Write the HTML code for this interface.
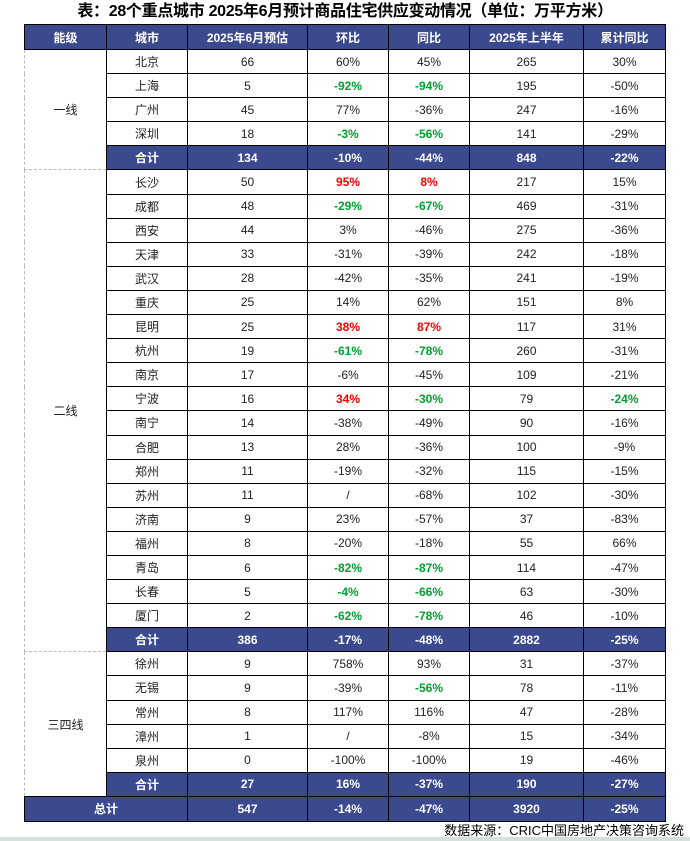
<!DOCTYPE html>
<html><head><meta charset="utf-8"><style>
body{margin:0;width:690px;height:841px;background:#fff;position:relative;overflow:hidden;font-family:"Liberation Sans","Noto Sans CJK SC",sans-serif;}
#title{position:absolute;left:0;top:1px;width:690px;text-align:center;font-size:16px;font-weight:bold;line-height:22px;color:#000;letter-spacing:-0.3px}
table{position:absolute;left:24px;top:24px;border-collapse:collapse;table-layout:fixed;font-size:12px;}
td{height:23.1px;padding:0;text-align:center;border:1px solid #000;color:#222;white-space:nowrap}
td.lv{border:1px dashed #bbb;border-right:1px solid #000}
tr.h td{background:#3b4a8f;color:#fff;font-weight:bold;border-color:#000;height:24px}
tr.s td.s{background:#3b4a8f;color:#fff;font-weight:bold}
.g{color:#00a030;font-weight:bold}.r{color:#ff0000;font-weight:bold}
#src{position:absolute;right:6px;top:823px;font-size:13px;line-height:16px;color:#000}
#bl{position:absolute;left:0;top:837px;width:690px;height:4px;background:#d8dede}
</style></head><body>
<div id="title">表：28个重点城市 2025年6月预计商品住宅供应变动情况（单位：万平方米）</div>
<table>
<colgroup><col style="width:82px"><col style="width:81px"><col style="width:120px"><col style="width:81px"><col style="width:81px"><col style="width:114px"><col style="width:82px"></colgroup>
<tr class="h"><td>能级</td><td>城市</td><td>2025年6月预估</td><td>环比</td><td>同比</td><td>2025年上半年</td><td>累计同比</td></tr>
<tr><td class="lv" rowspan="5">一线</td><td>北京</td><td>66</td><td>60%</td><td>45%</td><td>265</td><td>30%</td></tr>
<tr><td>上海</td><td>5</td><td class="g">-92%</td><td class="g">-94%</td><td>195</td><td>-50%</td></tr>
<tr><td>广州</td><td>45</td><td>77%</td><td>-36%</td><td>247</td><td>-16%</td></tr>
<tr><td>深圳</td><td>18</td><td class="g">-3%</td><td class="g">-56%</td><td>141</td><td>-29%</td></tr>
<tr class="s"><td class="s">合计</td><td class="s">134</td><td class="s">-10%</td><td class="s">-44%</td><td class="s">848</td><td class="s">-22%</td></tr>
<tr><td class="lv" rowspan="20">二线</td><td>长沙</td><td>50</td><td class="r">95%</td><td class="r">8%</td><td>217</td><td>15%</td></tr>
<tr><td>成都</td><td>48</td><td class="g">-29%</td><td class="g">-67%</td><td>469</td><td>-31%</td></tr>
<tr><td>西安</td><td>44</td><td>3%</td><td>-46%</td><td>275</td><td>-36%</td></tr>
<tr><td>天津</td><td>33</td><td>-31%</td><td>-39%</td><td>242</td><td>-18%</td></tr>
<tr><td>武汉</td><td>28</td><td>-42%</td><td>-35%</td><td>241</td><td>-19%</td></tr>
<tr><td>重庆</td><td>25</td><td>14%</td><td>62%</td><td>151</td><td>8%</td></tr>
<tr><td>昆明</td><td>25</td><td class="r">38%</td><td class="r">87%</td><td>117</td><td>31%</td></tr>
<tr><td>杭州</td><td>19</td><td class="g">-61%</td><td class="g">-78%</td><td>260</td><td>-31%</td></tr>
<tr><td>南京</td><td>17</td><td>-6%</td><td>-45%</td><td>109</td><td>-21%</td></tr>
<tr><td>宁波</td><td>16</td><td class="r">34%</td><td class="g">-30%</td><td>79</td><td class="g">-24%</td></tr>
<tr><td>南宁</td><td>14</td><td>-38%</td><td>-49%</td><td>90</td><td>-16%</td></tr>
<tr><td>合肥</td><td>13</td><td>28%</td><td>-36%</td><td>100</td><td>-9%</td></tr>
<tr><td>郑州</td><td>11</td><td>-19%</td><td>-32%</td><td>115</td><td>-15%</td></tr>
<tr><td>苏州</td><td>11</td><td>/</td><td>-68%</td><td>102</td><td>-30%</td></tr>
<tr><td>济南</td><td>9</td><td>23%</td><td>-57%</td><td>37</td><td>-83%</td></tr>
<tr><td>福州</td><td>8</td><td>-20%</td><td>-18%</td><td>55</td><td>66%</td></tr>
<tr><td>青岛</td><td>6</td><td class="g">-82%</td><td class="g">-87%</td><td>114</td><td>-47%</td></tr>
<tr><td>长春</td><td>5</td><td class="g">-4%</td><td class="g">-66%</td><td>63</td><td>-30%</td></tr>
<tr><td>厦门</td><td>2</td><td class="g">-62%</td><td class="g">-78%</td><td>46</td><td>-10%</td></tr>
<tr class="s"><td class="s">合计</td><td class="s">386</td><td class="s">-17%</td><td class="s">-48%</td><td class="s">2882</td><td class="s">-25%</td></tr>
<tr><td class="lv" rowspan="6">三四线</td><td>徐州</td><td>9</td><td>758%</td><td>93%</td><td>31</td><td>-37%</td></tr>
<tr><td>无锡</td><td>9</td><td>-39%</td><td class="g">-56%</td><td>78</td><td>-11%</td></tr>
<tr><td>常州</td><td>8</td><td>117%</td><td>116%</td><td>47</td><td>-28%</td></tr>
<tr><td>漳州</td><td>1</td><td>/</td><td>-8%</td><td>15</td><td>-34%</td></tr>
<tr><td>泉州</td><td>0</td><td>-100%</td><td>-100%</td><td>19</td><td>-46%</td></tr>
<tr class="s"><td class="s">合计</td><td class="s">27</td><td class="s">16%</td><td class="s">-37%</td><td class="s">190</td><td class="s">-27%</td></tr>
<tr class="h"><td colspan="2">总计</td><td>547</td><td>-14%</td><td>-47%</td><td>3920</td><td>-25%</td></tr>
</table>
<div id="src">数据来源：CRIC中国房地产决策咨询系统</div>
<div id="bl"></div>
</body></html>
